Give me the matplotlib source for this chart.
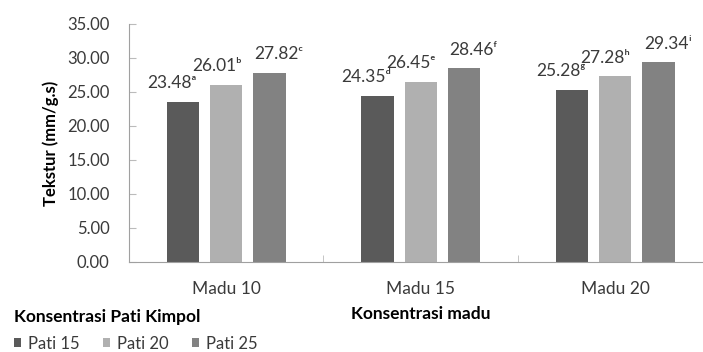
import numpy as np
import matplotlib.pyplot as plt

plt.rcParams['font.family'] = ['Lato', 'DejaVu Sans']

categories = ['Madu 10', 'Madu 15', 'Madu 20']
series = ['Pati 15', 'Pati 20', 'Pati 25']
pati15 = [23.48, 24.35, 25.28]
pati20 = [26.01, 26.45, 27.28]
pati25 = [27.82, 28.46, 29.34]
letters = [['ᵃ', 'ᵈ', 'ᵍ'], ['ᵇ', 'ᵉ', 'ʰ'], ['ᶜ', 'ᶠ', 'ⁱ']]
colors = ['#5a5a5a', '#b0b0b0', '#828282']

fig = plt.figure(figsize=(7.03, 3.52), dpi=100)
ax = fig.add_axes([0.1835, 0.256, 0.83, 0.676])

x = np.arange(len(categories))
width = 0.166
step = 0.222
shift = [-8, -7, 7]  # label nudges in points, as in the source chart
for i, (vals, name) in enumerate(zip([pati15, pati20, pati25], series)):
    pos = x + (i - 1) * step
    ax.bar(pos, vals, width, color=colors[i], label=name)
    for p, v, s in zip(pos, vals, letters[i]):
        ax.annotate(f'{v:.2f}{s}', (p, v), xytext=(shift[i], 10),
                    textcoords='offset points', ha='center', va='baseline',
                    fontsize=12.5, color='#3a3a3a')

ax.set_ylim(0, 35)
ax.set_yticks(np.arange(0, 36, 5))
ax.set_yticklabels([f'{t:.2f}' for t in np.arange(0, 36, 5)], fontsize=12, color='#3a3a3a')
ax.set_xlim(-0.5, 2.5)
ax.set_xticks(x)
ax.set_xticklabels(categories, fontsize=12.5, color='#3a3a3a')
ax.set_xticks([0.5, 1.5], minor=True)
ax.tick_params(axis='x', which='major', length=0, pad=14)
ax.tick_params(axis='x', which='minor', direction='in', length=5, color='#bbbbbb')
ax.tick_params(axis='y', direction='in', length=5, color='#bbbbbb', pad=14)
for s in ['top', 'right']:
    ax.spines[s].set_visible(False)
for s in ['left', 'bottom']:
    ax.spines[s].set_color('#a0a0a0')

ax.set_ylabel('Tekstur (mm/g.s)', fontsize=12, fontweight='bold', labelpad=6)
ax.set_xlabel('Konsentrasi madu', fontsize=12.5, fontweight='bold', labelpad=6)

leg = fig.legend(loc='lower left', bbox_to_anchor=(0.005, -0.028), ncol=3,
                 title='Konsentrasi Pati Kimpol', alignment='left', frameon=False,
                 fontsize=12, title_fontproperties={'weight': 'bold', 'size': 12.5},
                 handlelength=0.45, handleheight=0.45, handletextpad=0.4,
                 columnspacing=1.4, borderaxespad=0.2, labelspacing=0.3)
leg._legend_box.sep = 8
for t in leg.get_texts():
    t.set_color('#3a3a3a')

fig.savefig('out.png', dpi=100)
